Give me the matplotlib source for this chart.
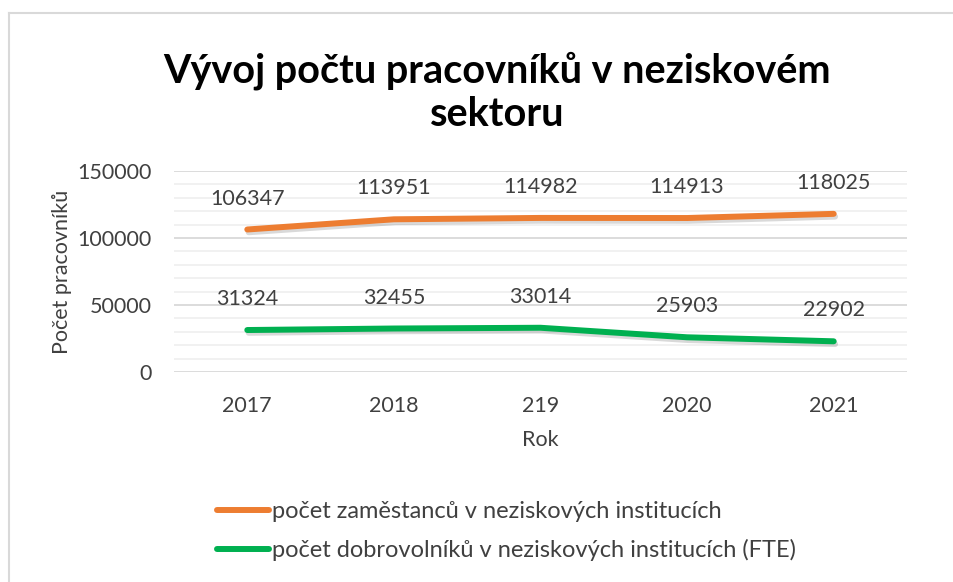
import matplotlib
matplotlib.use("Agg")
import matplotlib.pyplot as plt
import matplotlib.patheffects as pe
from matplotlib.lines import Line2D
from matplotlib.ticker import MultipleLocator

years = ["2017", "2018", "219", "2020", "2021"]
zamestanci = [106347, 113951, 114982, 114913, 118025]
dobrovolnici = [31324, 32455, 33014, 25903, 22902]
series_names = ["počet zaměstanců v neziskových institucích",
                "počet dobrovolníků v neziskových institucích (FTE)"]
colors = ["#ED7D31", "#00B050"]

plt.rcParams["font.family"] = ["Lato", "DejaVu Sans"]
TXT = "#404040"

W, H = 954, 582
fig = plt.figure(figsize=(W / 100, H / 100), dpi=100)
ax = fig.add_axes([174 / W, 1 - 372 / H, (907 - 174) / W, (372 - 171) / H])

x = list(range(len(years)))
shadow = [pe.SimpleLineShadow(offset=(1.0, -2.0), shadow_color="black", alpha=0.15),
          pe.Normal()]
for vals, c in zip([zamestanci, dobrovolnici], colors):
    ax.plot(x, vals, color=c, lw=4.3, solid_capstyle="round",
            solid_joinstyle="round", path_effects=shadow, zorder=3)
    for xi, v in zip(x, vals):
        ax.annotate(f"{v}", (xi, v), xytext=(0, 15), textcoords="offset points",
                    ha="center", va="bottom", fontsize=15.5, color=TXT)

ax.set_xlim(-0.5, len(years) - 0.5)
ax.set_ylim(0, 150000)
ax.set_xticks(x)
ax.set_xticklabels(years)
ax.yaxis.set_major_locator(MultipleLocator(50000))
ax.yaxis.set_minor_locator(MultipleLocator(10000))
ax.grid(axis="y", which="major", color="#D9D9D9", lw=1.3)
ax.grid(axis="y", which="minor", color="#F0F0F0", lw=1.3)
ax.set_axisbelow(True)
for s in ax.spines.values():
    s.set_visible(False)
ax.tick_params(axis="both", which="both", length=0, labelsize=15.5, labelcolor=TXT)
ax.tick_params(axis="x", pad=17)
ax.tick_params(axis="y", pad=16)
ax.set_xlabel("Rok", fontsize=15.5, color=TXT, labelpad=10)
ax.set_ylabel("Počet pracovníků", fontsize=15.5, color=TXT, labelpad=4)

fig.text(497 / W, 1 - 92 / H, "Vývoj počtu pracovníků v neziskovém\nsektoru",
         ha="center", va="center", fontsize=28.5, fontweight="bold",
         color="black", linespacing=1.2)

handles = [Line2D([], [], color=c, lw=4.3, solid_capstyle="round") for c in colors]
fig.legend(handles, series_names, loc="upper left",
           bbox_to_anchor=(196 / W, 1 - 480 / H), frameon=False,
           fontsize=17, labelcolor=TXT, handlelength=2.2, handletextpad=0.1,
           labelspacing=0.7)

fig.add_artist(Line2D([9 / W, 9 / W], [0, 1 - 13 / H], color="#D9D9D9", lw=1.5))
fig.add_artist(Line2D([9 / W, 1], [1 - 13 / H, 1 - 13 / H], color="#D9D9D9", lw=1.5))

fig.savefig("out.png", dpi=100)
